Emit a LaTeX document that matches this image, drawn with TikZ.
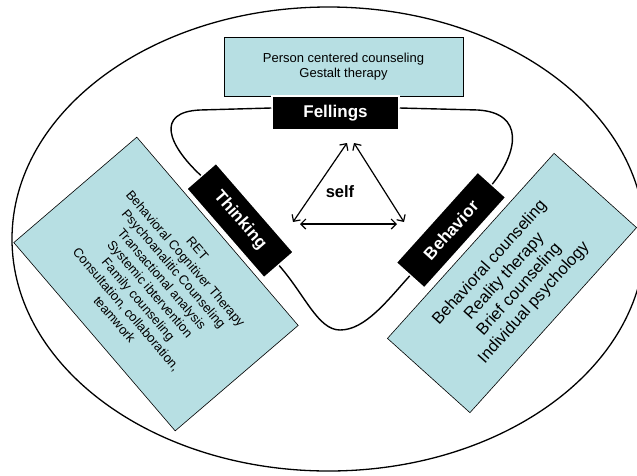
\documentclass[tikz,border=0pt]{standalone}
\usepackage{fontspec}
\setmainfont{Liberation Sans}
\usetikzlibrary{arrows.meta}
\definecolor{paleblue}{RGB}{183,223,227}

\begin{document}
\begin{tikzpicture}[x=1pt,y=-1pt,
    method box/.style={draw,line width=0.6pt,fill=paleblue,align=center,inner sep=2pt},
    area box/.style={fill=black,draw=white,line width=1.5pt,text=white,inner sep=0pt,
      font=\fontsize{17}{20}\selectfont\bfseries},
    loop line/.style={line width=1.4pt},
    self arrow/.style={<->,>={Straight Barb[length=5pt,width=10pt]},line width=1.2pt}]

  \useasboundingbox (0,0) rectangle (637,475);
  \draw[line width=1.3pt] (328.5,239) ellipse [x radius=316.5, y radius=232];

  \node[method box,minimum width=239pt,minimum height=59pt,font=\fontsize{13}{15.6}\selectfont] (top) at (343.5,66.5)
    {Person centered counseling\\Gestalt therapy};
  \node[method box,minimum width=248pt,minimum height=162pt,rotate=-49.4,font=\fontsize{13}{15.6}\selectfont] (left) at (156,284)
    {RET\\Behavioral Cognitiver Therapy\\Psychoanalitic Counseling\\Transactional analysis\\Systemic ibtervention\\Family counseling\\Consultation, collaboration,\\teamwork};
  \node[method box,minimum width=249pt,minimum height=111pt,rotate=48,font=\fontsize{16.5}{19.8}\selectfont] (right) at (512,283)
    {Behavioral counseling\\Reality therapy\\Brief counseling\\Individual psychology};

  \node[area box,minimum width=127pt,minimum height=34pt] (feel) at (335.5,113) {Fellings};
  \node[area box,minimum width=118pt,minimum height=39pt,rotate=-49] (think) at (240,220.5) {Thinking};
  \node[area box,minimum width=122pt,minimum height=38pt,rotate=48] (behav) at (451,230) {Behavior};

  % loop through the three areas
  \draw[loop line] ([yshift=5pt]feel.west) -- (200,110) .. controls (155,112) and (168,145) .. (think.west);
  \draw[loop line] ([yshift=5pt]feel.east) -- (478,110) .. controls (525,113) and (518,152) .. (behav.east);
  \draw[loop line] (think.east) .. controls (305,295) and (318,330) .. (340,330)
    .. controls (365,330) and (387,301) .. (behav.west);

  % self triangle
  \node[font=\fontsize{16.5}{20}\selectfont\bfseries] (self) at (340,192) {self};
  \coordinate (apex l) at (347,143);
  \coordinate (apex r) at (354,143);
  \coordinate (base l) at (293,222);
  \coordinate (base r) at (404,222);
  \coordinate (mid l) at (300,224);
  \coordinate (mid r) at (397,224);
  \draw[self arrow] (base l) -- (apex l);
  \draw[self arrow] (apex r) -- (base r);
  \draw[self arrow] (mid l) -- (mid r);

\end{tikzpicture}
\end{document}
